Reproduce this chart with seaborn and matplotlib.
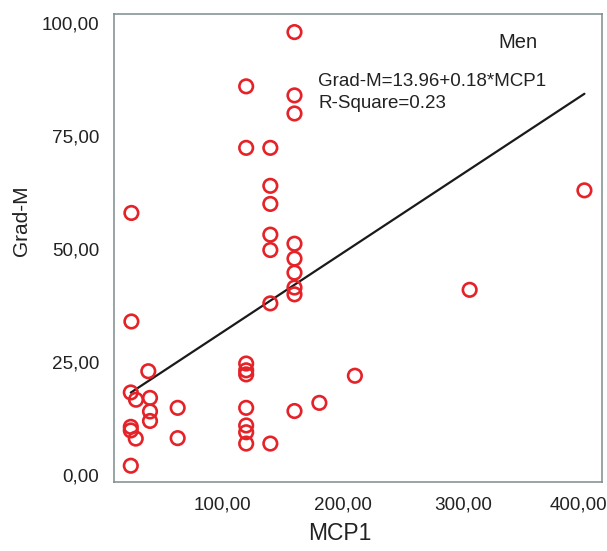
import matplotlib
matplotlib.use("Agg")
import matplotlib.pyplot as plt
import matplotlib.transforms as mtransforms
import seaborn as sns
import pandas as pd
import numpy as np

# Data
mcp1 = [160, 120, 160, 160, 120, 140, 140, 140, 25, 140, 140, 160, 160, 160,
        160, 160, 140, 25, 120, 120, 120, 210, 39, 24.5, 28.8, 40.4, 40.4, 40.4,
        63.3, 24.5, 24.5, 28.6, 63.3, 24.5, 120, 160, 180.6, 120, 120, 120, 140,
        305, 400]
grad_m = [98, 86, 84, 80, 72.4, 72.4, 64, 60, 58, 53.2, 49.8, 51.2, 47.9, 44.8,
          41.5, 40, 38, 34, 24.7, 23.2, 22.3, 22, 23, 18.3, 16.7, 17.1, 14.1, 12,
          14.9, 10.7, 9.9, 8.1, 8.2, 2.1, 14.9, 14.2, 16, 11, 9.5, 7, 7,
          41, 63]
# fitted line as reported in the chart (slope shown rounded as 0.18)
fit_intercept = 13.96
fit_slope = 0.176
x_ticks = [100, 200, 300, 400]
x_tick_labels = ["100,00", "200,00", "300,00", "400,00"]
y_ticks = [0, 25, 50, 75, 100]
y_tick_labels = ["0,00", "25,00", "50,00", "75,00", "100,00"]
title_text = "Men"
eq_text = "Grad-M=13.96+0.18*MCP1"
r2_text = "R-Square=0.23"

df = pd.DataFrame({"MCP1": mcp1, "Grad-M": grad_m})
xfit = np.array([min(mcp1), max(mcp1)])
fit_df = pd.DataFrame({"MCP1": xfit, "Grad-M": fit_intercept + fit_slope * xfit})

sns.set_style("white")
plt.rcParams["font.family"] = ["Liberation Sans", "DejaVu Sans"]

W, H = 607, 551
fig = plt.figure(figsize=(W / 100, H / 100), dpi=100)
L, R, T, B = 114, 602.3, 14, 482
ax = fig.add_axes([L / W, 1 - B / H, (R - L) / W, (B - T) / H])

red = "#e52228"
sns.lineplot(data=fit_df, x="MCP1", y="Grad-M", ax=ax, color="#1a1a1a",
             linewidth=1.6, zorder=2)
sns.scatterplot(data=df, x="MCP1", y="Grad-M", ax=ax, s=95,
                facecolors="none", edgecolor=red, linewidth=1.9, zorder=3)

ax.set_xlim(10.6, 414.8)
ax.set_ylim(-1.5, 102)
ax.set_xticks(x_ticks)
ax.set_xticklabels(x_tick_labels)
ax.set_yticks(y_ticks)
ax.set_yticklabels(y_tick_labels)

for sp in ax.spines.values():
    sp.set_visible(True)
    sp.set_color("#7d8b8b")
    sp.set_linewidth(1.1)

txtc = "#222222"
ax.tick_params(axis="both", direction="out", length=6.5, width=2.2,
               color="#111111", labelsize=13.6, labelcolor=txtc, pad=4)
ax.tick_params(axis="x", pad=4)

# keep the last x tick label inside the canvas
last = ax.get_xticklabels()[-1]
last.set_transform(last.get_transform() +
                   mtransforms.ScaledTranslation(-6 / 100, 0, fig.dpi_scale_trans))

ax.set_xlabel("MCP1", fontsize=16.5, color=txtc)
ax.set_ylabel("Grad-M", fontsize=15, color=txtc)
ax.xaxis.set_label_coords((340 - L) / (R - L), (B - 533) / (B - T))
ax.yaxis.set_label_coords((22 - L) / (R - L), (B - 221) / (B - T))
ax.xaxis.label.set_va("center")
ax.yaxis.label.set_va("center")

fig.text(518 / W, 1 - 43 / H, title_text, fontsize=14.5, color=txtc,
         ha="center", va="center")
fig.text(318 / W, 1 - 82 / H, eq_text, fontsize=13.5, color=txtc,
         ha="left", va="center")
fig.text(318 / W, 1 - 104 / H, r2_text, fontsize=13.5, color=txtc,
         ha="left", va="center")

fig.savefig("out.png", dpi=100)
